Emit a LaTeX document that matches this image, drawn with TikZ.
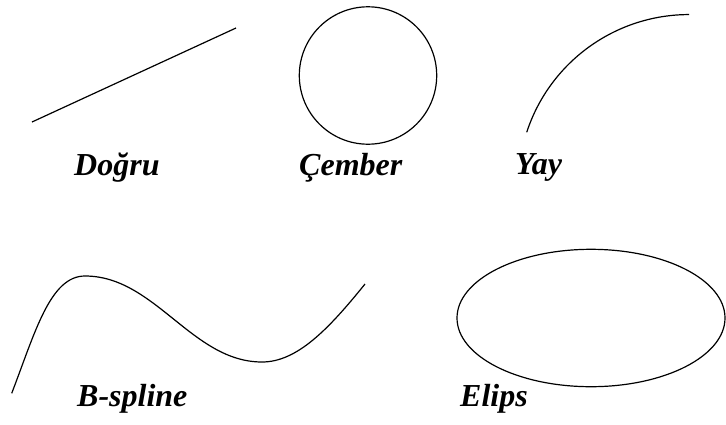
\documentclass[tikz,border=0pt]{standalone}
\usepackage{fontspec}
\setmainfont{Liberation Serif}
\begin{document}
\begin{tikzpicture}[x=1pt,y=-1pt,
  shape line/.style={line width=1.2pt, black},
  lbl/.style={font=\fontsize{32}{38}\selectfont\bfseries\itshape, inner sep=0pt, anchor=base west}]
\useasboundingbox (0,0) rectangle (726,424);
% Dogru
\coordinate (la) at (32,122);
\coordinate (lb) at (236,28);
\draw[shape line] (la) -- (lb);
\node[lbl] (dogru) at (74,175) {Doğru};
% Cember
\draw[shape line] (368,75.5) circle[radius=68.7];
\node[lbl] (cember) at (299,175) {Çember};
% Yay
\draw[shape line] (526.7,132.3) arc[start angle=-161.9, end angle=-90, radius=170.8];
\node[lbl] (yay) at (515,174) {Yay};
% B-spline
\draw[shape line] (11.7,393.3) .. controls (35,332.8) and (50,276) .. (85,276)
  .. controls (155,276) and (192,362) .. (262,362)
  .. controls (297,362) and (328.4,329.4) .. (365,284);
\node[lbl] (bspline) at (77,406) {B-spline};
% Elips
\draw[shape line] (591,318) ellipse[x radius=134, y radius=68.7];
\node[lbl] (elips) at (460,406) {Elips};
\end{tikzpicture}
\end{document}
